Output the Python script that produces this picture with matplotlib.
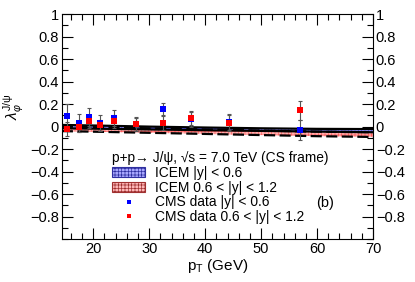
import matplotlib
matplotlib.use("Agg")
import matplotlib.pyplot as plt
from matplotlib.ticker import MultipleLocator, FixedLocator
from matplotlib.lines import Line2D
from matplotlib.patches import Patch

plt.rcParams['font.family'] = ['Liberation Sans', 'DejaVu Sans']
plt.rcParams['mathtext.fontset'] = 'custom'
plt.rcParams['mathtext.rm'] = 'Liberation Sans'
plt.rcParams['mathtext.it'] = 'Liberation Sans:italic'
plt.rcParams['hatch.linewidth'] = 0.5

# ---- data ----
pt_data = [15.35, 17.5, 19.3, 21.3, 23.7, 27.6, 32.5, 37.5, 44.3, 56.9]
lam_blue = [0.097, 0.03, 0.083, 0.035, 0.074, 0.02, 0.156, 0.07, 0.04, -0.03]
err_blue = [0.10, 0.08, 0.08, 0.07, 0.07, 0.06, 0.05, 0.07, 0.07, 0.09]
lam_red = [-0.02, 0.0, 0.047, 0.01, 0.047, 0.024, 0.033, 0.074, 0.03, 0.147]
err_red = [0.06, 0.05, 0.06, 0.05, 0.06, 0.06, 0.06, 0.06, 0.07, 0.085]

pt_th = [14.4, 20, 30, 40, 50, 60, 70]
blue_hi = [0.015, 0.01, 0.0, -0.008, -0.015, -0.02, -0.022]
blue_lo = [-0.015, -0.018, -0.025, -0.032, -0.038, -0.044, -0.05]
red_hi = [0.0, -0.005, -0.015, -0.025, -0.035, -0.045, -0.05]
red_lo = [-0.04, -0.045, -0.055, -0.065, -0.075, -0.085, -0.092]

yticks = [-0.8, -0.6, -0.4, -0.2, 0, 0.2, 0.4, 0.6, 0.8, 1]
ytick_labels = ['\u22120.8', '\u22120.6', '\u22120.4', '\u22120.2', '0', '0.2', '0.4', '0.6', '0.8', '1']
xticks = [20, 30, 40, 50, 60, 70]

fig = plt.figure(figsize=(4.15, 2.82), dpi=100)
ax = fig.add_axes([0.149, 0.152, 0.750, 0.798])

# theory bands
ax.fill_between(pt_th, red_lo, red_hi, facecolor='#ffb0b0', edgecolor='#ff6060',
                hatch='+++++', linewidth=0, zorder=2)
ax.plot(pt_th, red_hi, color='black', lw=1.6, ls=(0, (5, 2)), zorder=3)
ax.plot(pt_th, red_lo, color='black', lw=1.6, ls=(0, (5, 2)), zorder=3)
ax.fill_between(pt_th, blue_lo, blue_hi, facecolor='#a0a0ff', edgecolor='#5050ff',
                hatch='+++++', linewidth=0, zorder=2)
ax.plot(pt_th, blue_hi, color='black', lw=1.6, zorder=3)
ax.plot(pt_th, blue_lo, color='black', lw=1.6, zorder=3)

# data
ax.errorbar(pt_data, lam_blue, yerr=err_blue, fmt='none', ecolor='#555555',
            elinewidth=0.8, capsize=1.5, capthick=0.8, zorder=4)
ax.errorbar(pt_data, lam_red, yerr=err_red, fmt='none', ecolor='#555555',
            elinewidth=0.8, capsize=1.5, capthick=0.8, zorder=4)
ax.plot(pt_data, lam_blue, 's', color='#0000ff', ms=5, mew=0, zorder=5)
ax.plot(pt_data, lam_red, 's', color='#ff0000', ms=5, mew=0, zorder=6)

ax.set_xlim(14.4, 70)
ax.set_ylim(-1, 1)
ax.yaxis.set_major_locator(FixedLocator(yticks))
ax.set_yticklabels(ytick_labels)
ax.yaxis.set_minor_locator(MultipleLocator(0.1))
ax.xaxis.set_major_locator(FixedLocator(xticks))
ax.xaxis.set_minor_locator(MultipleLocator(2))
ax.tick_params(which='both', direction='in', top=True, right=True,
               labelright=True, labelsize=10.5, width=0.8, colors='black')
ax.tick_params(which='major', length=8, pad=2)
ax.tick_params(which='minor', length=4)
for s in ax.spines.values():
    s.set_linewidth(0.8)

ax.set_xlabel('p$_\\mathregular{T}$ (GeV)', fontsize=11, labelpad=1)
ax.set_ylabel('$\\lambda_{\\varphi}^{\\mathregular{J/\\psi}}$', fontsize=11)
ax.yaxis.set_label_coords(-0.115, 0.59)

handles = [
    Patch(facecolor='#a8a8ff', edgecolor='#3030a0', hatch='+++++', linewidth=0.8),
    Patch(facecolor='#ffb8b8', edgecolor='#a03030', hatch='+++++', linewidth=0.8),
    Line2D([], [], marker='s', ls='none', color='#0000ff', ms=3.5, mew=0),
    Line2D([], [], marker='s', ls='none', color='#ff0000', ms=3.5, mew=0),
]
labels = ['ICEM |y| < 0.6', 'ICEM 0.6 < |y| < 1.2', 'CMS data |y| < 0.6',
          'CMS data 0.6 < |y| < 1.2']
leg = ax.legend(handles, labels, loc='upper left', bbox_to_anchor=(0.135, 0.43),
                frameon=False, fontsize=9.9, handlelength=2.4, handleheight=0.7,
                handletextpad=0.7, labelspacing=0.05, borderpad=0.1,
                title='p+p\u2192 J/\u03c8, \u221as = 7.0 TeV (CS frame)',
                title_fontsize=9.9, alignment='left')
leg._legend_box.sep = 1

ax.text(0.846, 0.16, '(b)', transform=ax.transAxes, fontsize=10.5,
        ha='center', va='center')

fig.savefig('out.png', dpi=100)
